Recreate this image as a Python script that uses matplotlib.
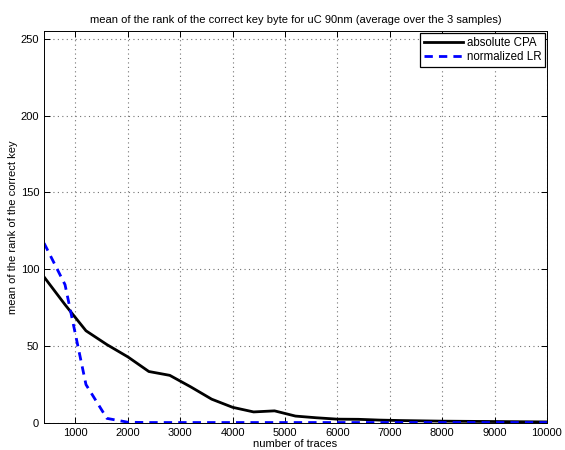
import numpy as np
import matplotlib
matplotlib.use('Agg')
import matplotlib.pyplot as plt

plt.rcParams['font.family'] = ['Liberation Sans', 'DejaVu Sans']

# number of traces used in the attack
n_traces = np.arange(400, 10001, 400)

# mean rank of the correct key byte, averaged over the 3 samples
rank_cpa = [95, 77, 60, 51, 43, 33.5, 31, 23.5, 15.5, 10.2, 7.2, 7.9, 4.5,
            3.4, 2.5, 2.4, 1.9, 1.6, 1.4, 1.2, 1.1, 1.0, 0.9, 0.8, 0.7]
rank_lr = [117, 90, 25, 3, 0.5, 0.3, 0.3, 0.3, 0.3, 0.3, 0.3, 0.3, 0.3,
           0.3, 0.3, 0.3, 0.3, 0.3, 0.3, 0.3, 0.3, 0.3, 0.3, 0.3, 0.3]

fig = plt.figure(figsize=(5.65, 4.5), dpi=100)
ax = fig.add_axes([0.078, 0.06, 0.89, 0.871])

ax.plot(n_traces, rank_cpa, '-', color='k', lw=2, label='absolute CPA')
ax.plot(n_traces, rank_lr, '--', color='b', lw=2, dashes=(3, 2.2),
        label='normalized LR')

ax.set_xlim(400, 10000)
ax.set_ylim(0, 255)
ax.set_xticks(np.arange(1000, 10001, 1000))
ax.set_yticks(np.arange(0, 251, 50))
ax.tick_params(direction='in', top=True, right=True, labelsize=8, length=4,
               width=0.7)
ax.grid(True, linestyle=(0, (1, 3)), color='0.45', lw=0.8)
for sp in ax.spines.values():
    sp.set_linewidth(0.7)

ax.set_xlabel('number of traces', fontsize=8, labelpad=1)
ax.set_ylabel('mean of the rank of the correct key', fontsize=8, labelpad=2)
ax.set_title('mean of the rank of the correct key byte for uC 90nm '
             '(average over the 3 samples)', fontsize=8, pad=6)

leg = ax.legend(loc='upper right', fontsize=8.3, fancybox=False,
                edgecolor='k', framealpha=1, borderaxespad=0.2,
                handlelength=3.4, handletextpad=0.3, borderpad=0.3,
                labelspacing=0.2)
leg.get_frame().set_linewidth(0.9)

fig.savefig('out.png', dpi=100)
